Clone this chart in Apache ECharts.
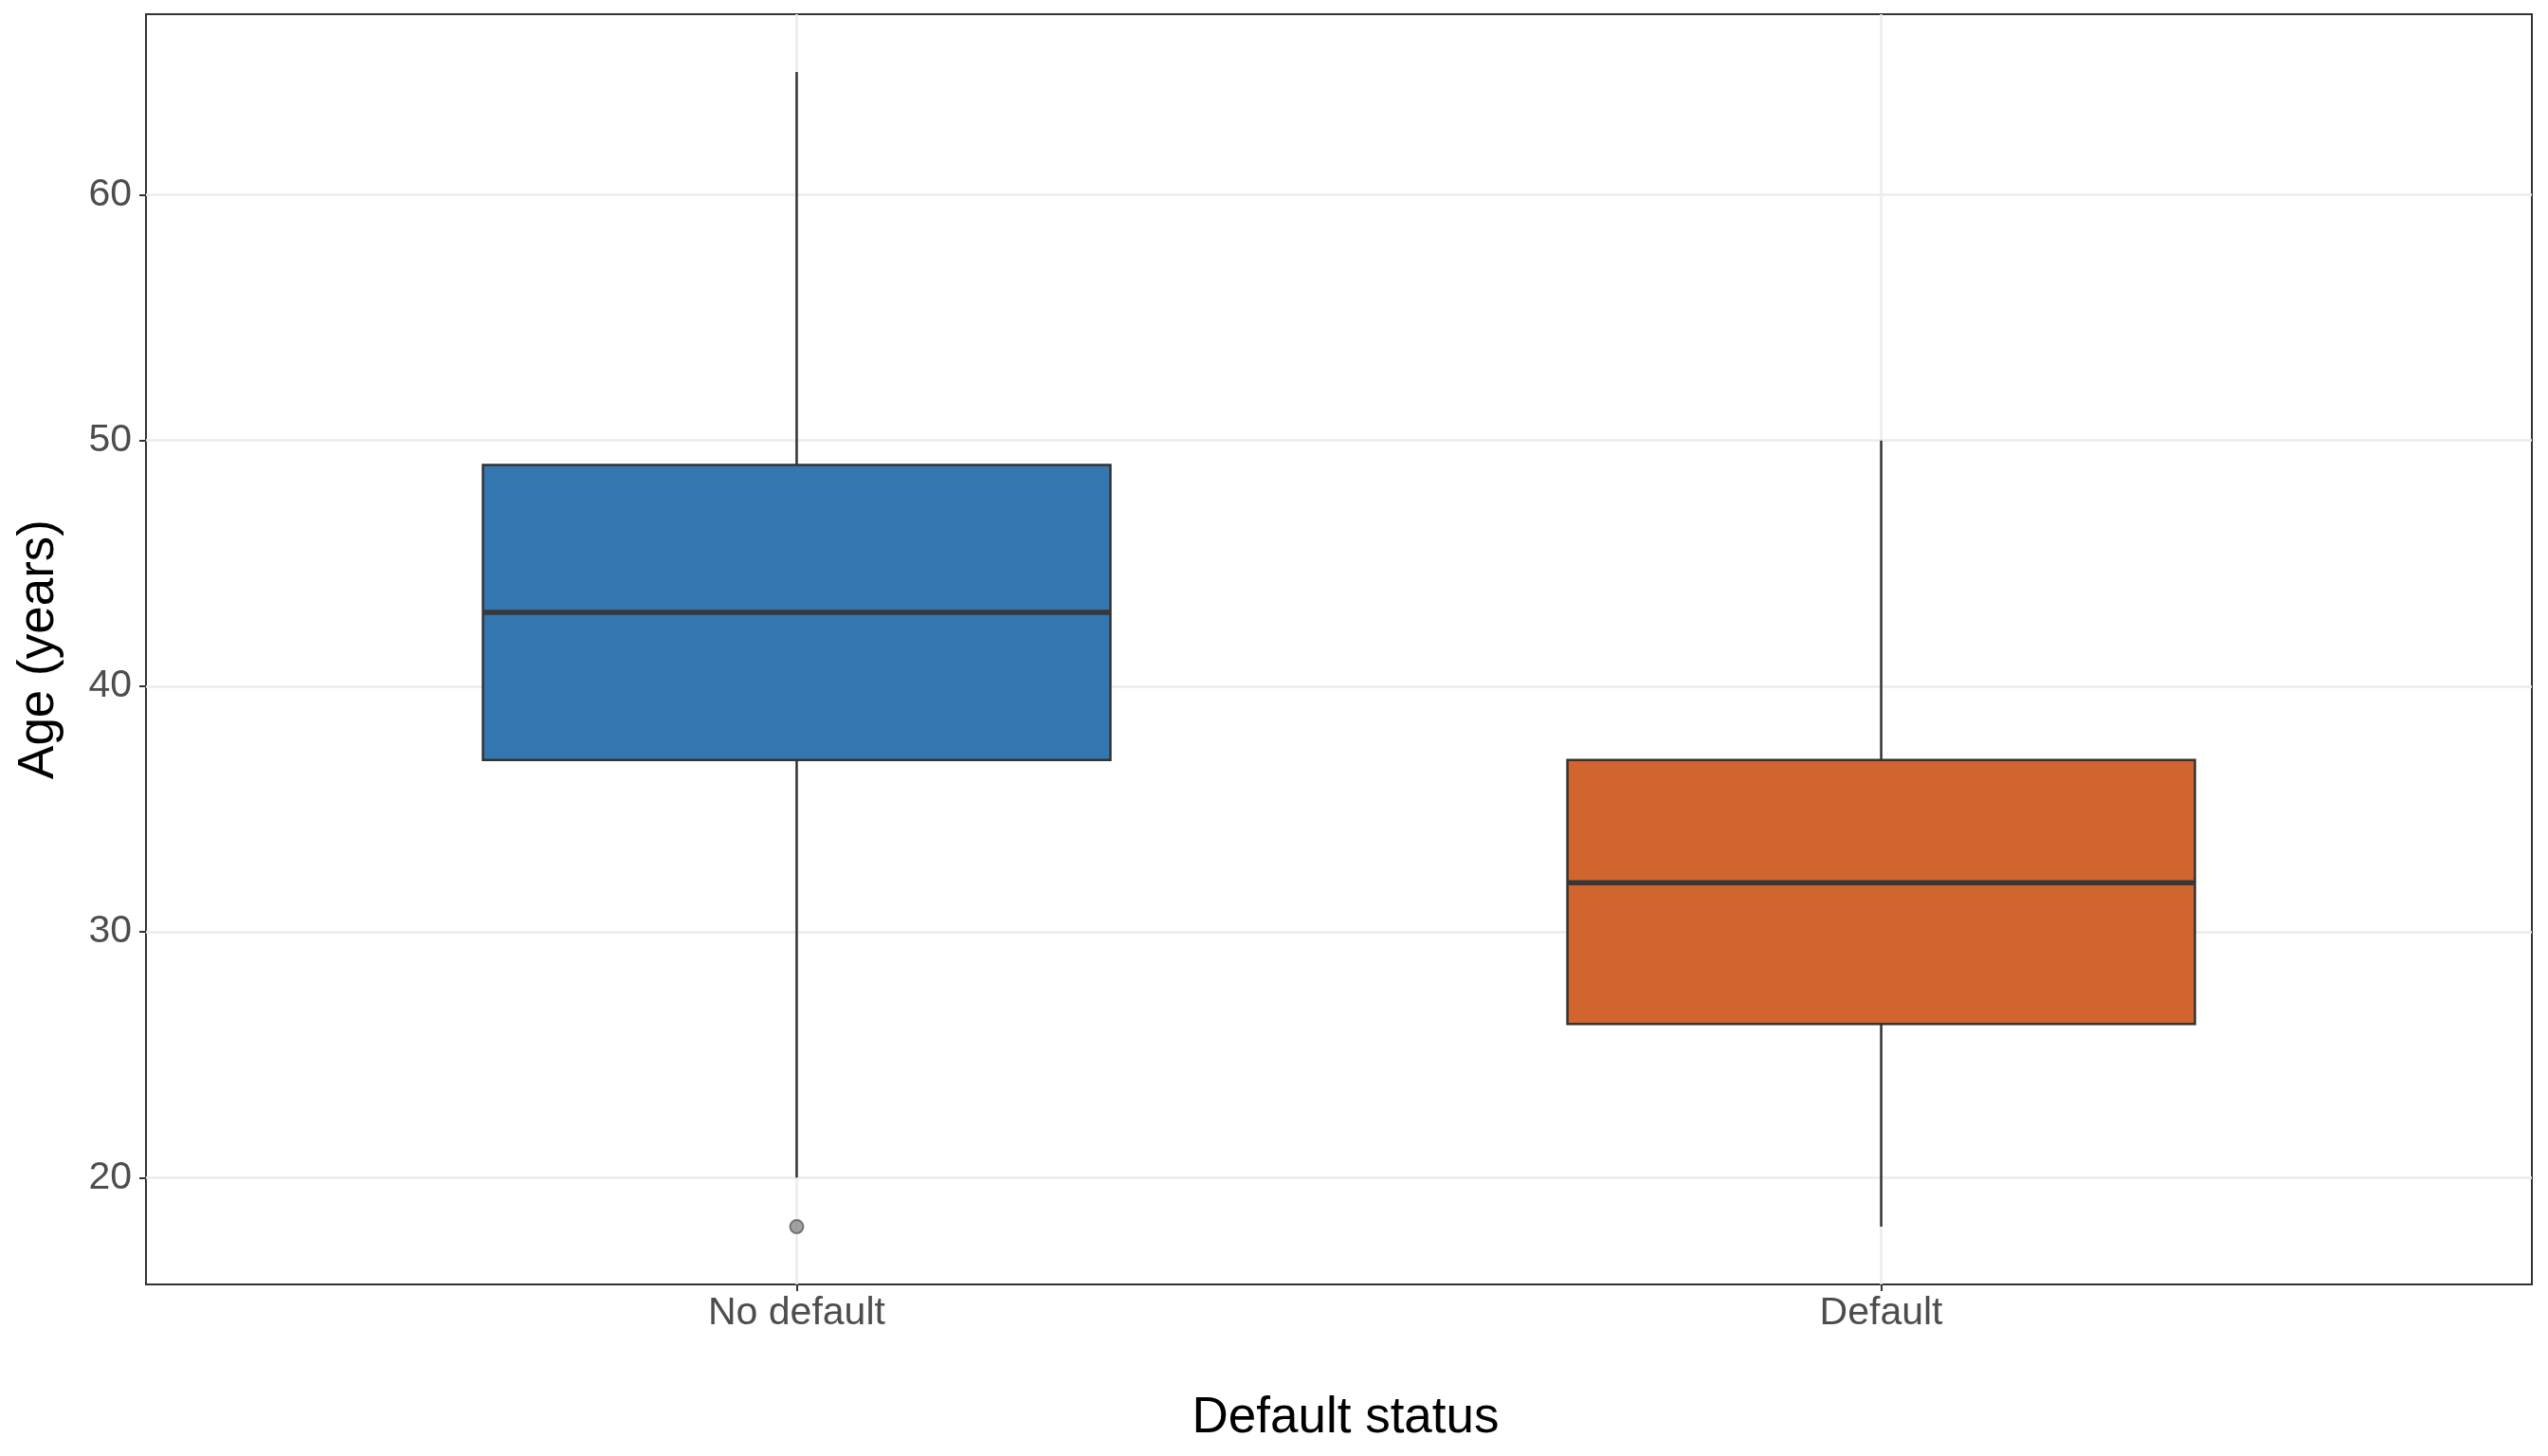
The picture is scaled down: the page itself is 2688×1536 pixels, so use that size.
<!DOCTYPE html>
<html>
<head>
<meta charset="utf-8">
<title>Age by default status</title>
<script src="https://cdn.jsdelivr.net/npm/echarts@6/dist/echarts.min.js"></script>
<style>
  html, body { margin: 0; padding: 0; background: #fff; }
  #main { width: 2688px; height: 1536px; }
</style>
</head>
<body>
<div id="main"></div>
<script>
// categories on the x axis, placed at 0 and 1
var categories = ['No default', 'Default'];
var catPos = [0, 1];
// box statistics per category: lower whisker, Q1, median, Q3, upper whisker
var lowerWhisker = [20, 18];
var q1 = [37, 26.25];
var median = [43, 32];
var q3 = [49, 37];
var upperWhisker = [65, 50];
// outliers as [category index, age]
var outliers = [[0, 18]];
var yTicks = [20, 30, 40, 50, 60];
var boxColors = ['#3476b0', '#d2652d'];

var fontFam = '"Liberation Sans", Arial, Helvetica, sans-serif';

// whiskers: a very thin box that runs from the lower to the upper whisker
var whiskerData = catPos.map(function (x, i) {
    return [x, lowerWhisker[i], lowerWhisker[i], lowerWhisker[i], upperWhisker[i], upperWhisker[i]];
});
// the box itself, Q1 to Q3 (no whiskers, ggplot style)
var boxData = catPos.map(function (x, i) {
    return {
        value: [x, q1[i], q1[i], median[i], q3[i], q3[i]],
        itemStyle: { color: boxColors[i] }
    };
});
// thick median bar on top
var medianData = catPos.map(function (x, i) {
    var m = median[i];
    return [x, m, m, m, m, m];
});

// boxplots on one axis get placed side by side, so each layer has its own (hidden) x axis
function hiddenX() {
    return { type: 'value', min: -0.6, max: 1.6, show: false, axisLine: { onZero: false } };
}

var boxW = '52.6%';

var myChart = echarts.init(document.getElementById('main'));
var option = {
    backgroundColor: '#ffffff',
    animation: false,
    grid: {
        left: 154, right: 17, top: 15, bottom: 181,
        show: true, borderColor: '#333333', borderWidth: 2,
        backgroundColor: 'transparent'
    },
    xAxis: [{
        type: 'value',
        min: -0.6, max: 1.6,
        splitNumber: 2,
        name: 'Default status',
        nameLocation: 'middle',
        nameGap: 115,
        nameTextStyle: { fontSize: 53, color: '#000', fontFamily: fontFam, padding: [0, 0, 0, 14] },
        axisLine: { show: false, onZero: false },
        axisTick: { show: true, length: 7, customValues: catPos, lineStyle: { color: '#333', width: 2 } },
        axisLabel: {
            customValues: catPos,
            fontSize: 41, color: '#4d4d4d', fontFamily: fontFam, margin: 10,
            formatter: function (v) {
                var idx = catPos.indexOf(Math.round(v));
                return Math.abs(v - Math.round(v)) < 1e-6 && idx >= 0 ? categories[idx] : '';
            }
        },
        splitLine: { show: true, lineStyle: { color: '#ebebeb', width: 2.5 } }
    }, hiddenX(), hiddenX()],
    yAxis: {
        type: 'value',
        min: 15.65, max: 67.35,
        name: 'Age (years)',
        nameLocation: 'middle',
        nameGap: 86,
        nameTextStyle: { fontSize: 53, color: '#000', fontFamily: fontFam },
        axisLine: { show: false, onZero: false },
        axisTick: { show: true, length: 7, customValues: yTicks, lineStyle: { color: '#333', width: 2 } },
        axisLabel: {
            customValues: yTicks,
            fontSize: 41, color: '#4d4d4d', fontFamily: fontFam, margin: 15
        },
        splitLine: { show: true, lineStyle: { color: '#ebebeb', width: 2.5 } }
    },
    series: [
        {
            type: 'boxplot',
            name: 'whisker',
            xAxisIndex: 0,
            boxWidth: [2.5, 2.5],
            silent: true,
            itemStyle: { color: '#333333', borderColor: '#333333', borderWidth: 0 },
            data: whiskerData
        },
        {
            type: 'boxplot',
            name: 'box',
            xAxisIndex: 1,
            boxWidth: [boxW, boxW],
            silent: true,
            itemStyle: { borderColor: '#333333', borderWidth: 2.5 },
            data: boxData
        },
        {
            type: 'boxplot',
            name: 'median',
            xAxisIndex: 2,
            boxWidth: [boxW, boxW],
            silent: true,
            itemStyle: { color: 'rgba(0,0,0,0)', borderColor: '#383838', borderWidth: 5.5 },
            data: medianData
        },
        {
            type: 'scatter',
            name: 'outlier',
            xAxisIndex: 0,
            symbol: 'circle',
            symbolSize: 14,
            silent: true,
            itemStyle: { color: '#8a8a8a', borderColor: '#606060', borderWidth: 2 },
            data: outliers
        }
    ]
};
myChart.setOption(option);
</script>
</body>
</html>
